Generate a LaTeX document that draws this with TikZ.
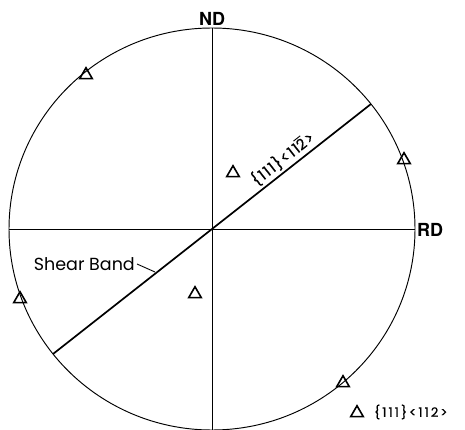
\documentclass[tikz,border=0pt]{standalone}
\usepackage{fontspec}
\setmainfont{Poppins}
\newfontfamily\hv{TeX Gyre Heros}
\newfontfamily\spaced{Poppins}[LetterSpace=10,FakeBold=0.6]
\newfontfamily\legfont{Poppins}[LetterSpace=16,FakeBold=0.6]
\usetikzlibrary{shapes.geometric}
\newcommand{\barred}[1]{\leavevmode\setbox0\hbox{#1}\rlap{\raisebox{1.1\ht0}{\rule{\wd0}{0.9pt}}}#1}
\tikzset{
  tri/.style={regular polygon, regular polygon sides=3, draw, line width=1.6pt,
              minimum size=14.5pt, inner sep=0pt},
  axislbl/.style={font=\hv\bfseries\fontsize{18}{18}\selectfont, inner sep=0pt},
  thin line/.style={line width=0.95pt},
  band/.style={line width=1.7pt},
  lbl/.style={font=\spaced\fontsize{15}{15}\selectfont, inner sep=1pt}
}
\begin{document}
\begin{tikzpicture}[x=1pt,y=-1pt]
\useasboundingbox (0,0) rectangle (465,430);
\coordinate (O) at (212,229);
\draw[thin line] (O) ellipse [x radius=203, y radius=201];
\coordinate (T) at (212,28);
\coordinate (Bt) at (212,430);
\coordinate (L) at (9,229);
\coordinate (R) at (415,229);
\draw[thin line] (T) -- (Bt);
\draw[thin line] (L) -- (R);
\node[axislbl] (ND) at (212,19) {ND};
\node[axislbl, anchor=west] (RD) at (417,229.5) {RD};
\coordinate (A) at (53,354);
\coordinate (B) at (371,104);
\draw[band] (A) -- (B) node[lbl, pos=0.745, sloped, above=1.5pt] (lab) {\{111\}<11\barred{2}>};
\coordinate (SBend) at (155,272);
\node[font=\fontsize{17.5}{17.5}\selectfont, inner sep=0pt, anchor=east] (SB) at (135,264) {Shear Band};
\draw[line width=0.9pt] (SB.east) ++(2,0) -- (SBend);
\node[tri] (t1) at (86,75) {};
\node[tri] (t2) at (404,160) {};
\node[tri] (t3) at (233,173) {};
\node[tri] (t4) at (20,299) {};
\node[tri] (t5) at (195,294) {};
\node[tri] (t6) at (343,383) {};
\node[tri] (t7) at (357,413) {};
\node[inner sep=1pt, anchor=west, font=\legfont\fontsize{13}{13}\selectfont] (leg) at (373,412) {\{111\}<112>};
\end{tikzpicture}
\end{document}
